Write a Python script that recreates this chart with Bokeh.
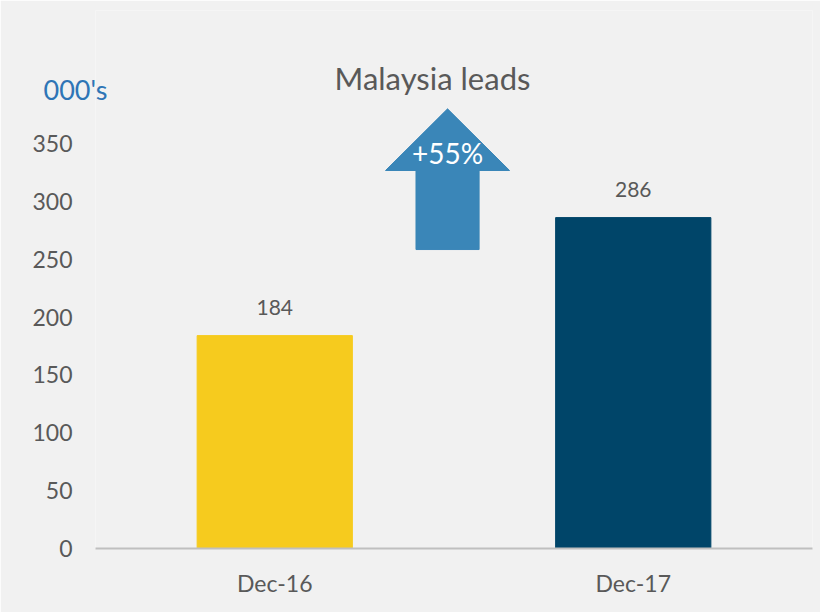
from bokeh.plotting import figure
from bokeh.models import Range1d, FixedTicker, Label, LabelSet, ColumnDataSource, LinearAxis
from bokeh.core.properties import value
from bokeh.embed import file_html
from bokeh.resources import INLINE

# ---- data ----
categories = ["Dec-16", "Dec-17"]
values = [184, 286]
bar_colors = ["#F6CB1E", "#004569"]
y_ticks = [0, 50, 100, 150, 200, 250, 300, 350]
title_text = "Malaysia leads"
unit_text = "000's"
growth_text = "+55%"

FONT = "Lato"
GREY = "#595959"
BG = "#F1F1F1"

xpos = [i + 0.5 for i in range(len(categories))]

p = figure(width=820, height=612, output_backend="svg", toolbar_location=None,
           x_range=Range1d(0, len(categories)), y_range=Range1d(0, 465))
p.min_border_left = 95
p.min_border_right = 8
p.min_border_top = 10
p.min_border_bottom = 64
p.background_fill_color = BG
p.border_fill_color = BG
p.outline_line_color = None
p.xgrid.visible = False
p.ygrid.visible = False

src = ColumnDataSource(dict(x=xpos, top=values, color=bar_colors,
                            lab=[str(v) for v in values]))
p.vbar(x="x", top="top", width=0.433, color="color", source=src)

labels = LabelSet(x="x", y="top", text="lab", source=src, text_align="center",
                  text_baseline="middle", y_offset=28, text_font=value(FONT),
                  text_font_size=value("21px"), text_color=value(GREY))
p.add_layout(labels)

# axes
p.xaxis.ticker = FixedTicker(ticks=xpos)
p.xaxis.major_label_overrides = {x: c for x, c in zip(xpos, categories)}
p.xaxis.major_tick_line_color = None
p.xaxis.minor_tick_line_color = None
p.xaxis.axis_line_color = "#BFBFBF"
p.xaxis.axis_line_width = 2
p.xaxis.major_label_text_font = FONT
p.xaxis.major_label_text_font_size = "23px"
p.xaxis.major_label_text_color = GREY
p.xaxis.major_label_standoff = 14

p.yaxis.ticker = FixedTicker(ticks=y_ticks)
p.yaxis.major_tick_line_color = None
p.yaxis.minor_tick_line_color = None
p.yaxis.axis_line_color = None
p.yaxis.major_label_text_font = FONT
p.yaxis.major_label_text_font_size = "23px"
p.yaxis.major_label_text_color = GREY
p.yaxis.major_label_standoff = 17

# unit caption as a second (label-only) left axis
unit_y = 397
unit_axis = LinearAxis(ticker=FixedTicker(ticks=[unit_y]),
                       major_label_overrides={unit_y: unit_text},
                       major_tick_line_color=None, minor_tick_line_color=None,
                       axis_line_color=None, major_label_text_font=FONT,
                       major_label_text_font_size="27px",
                       major_label_text_color="#2E75B6",
                       major_label_standoff=-84)
p.add_layout(unit_axis, "left")

# growth arrow (between the two bars)
cx = 0.982
tri_hw, shaft_hw = 0.173, 0.088
tip_y, base_y, bottom_y = 380, 326.7, 258.4
p.patch([cx - shaft_hw, cx - shaft_hw, cx - tri_hw, cx, cx + tri_hw, cx + shaft_hw, cx + shaft_hw],
        [bottom_y, base_y, base_y, tip_y, base_y, base_y, bottom_y],
        fill_color="#3A86B8", line_color="#3A86B8")
p.add_layout(Label(x=cx, y=342, text=growth_text, text_align="center",
                   text_baseline="middle", text_color="white", text_font=FONT,
                   text_font_size="28px"))

p.add_layout(Label(x=0.94, y=407, text=title_text, text_align="center",
                   text_baseline="middle", text_color=GREY, text_font=FONT,
                   text_font_size="31px"))

open("out.html", "w").write(file_html(p, INLINE))
